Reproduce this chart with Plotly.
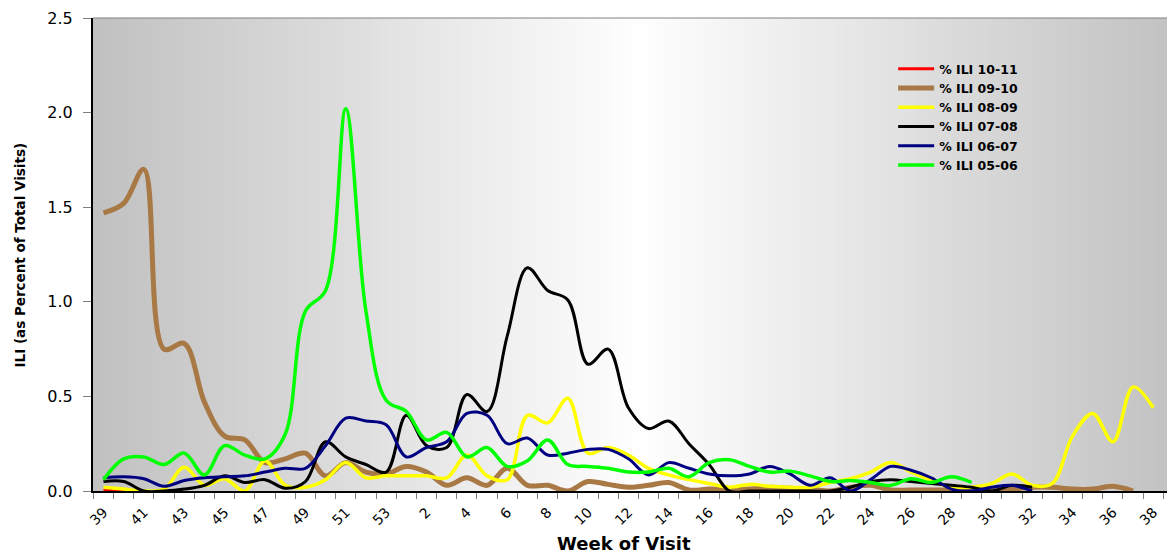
import plotly.graph_objects as go

# week of visit, flu season order
weeks = [str(w) for w in range(39, 54)] + [str(w) for w in range(1, 39)]

ili_10_11 = [0.005, 0.005]

ili_09_10 = [1.47, 1.52, 1.70, 0.75, 0.78, 0.47, 0.29, 0.27, 0.15, 0.17,
             0.20, 0.08, 0.15, 0.10, 0.09, 0.13, 0.10, 0.03, 0.07, 0.03,
             0.12, 0.03, 0.03, 0.0, 0.05, 0.035, 0.02, 0.03, 0.045, 0.005,
             0.01, 0.01, 0.01, 0.02, 0.015, 0.01, 0.0, 0.02, 0.03, 0.005,
             0.005, 0.005, 0.005, 0.01, 0.015, 0.01, 0.02, 0.02, 0.01, 0.01,
             0.025, 0.0]

ili_08_09 = [0.02, 0.01, 0.0, 0.01, 0.125, 0.03, 0.065, 0.0, 0.16, 0.03,
             0.02, 0.06, 0.15, 0.07, 0.08, 0.08, 0.08, 0.07, 0.19, 0.08,
             0.06, 0.40, 0.36, 0.49, 0.20, 0.23, 0.19, 0.12, 0.085, 0.06,
             0.04, 0.02, 0.035, 0.025, 0.02, 0.02, 0.045, 0.065, 0.10, 0.15,
             0.10, 0.055, 0.02, 0.02, 0.04, 0.09, 0.03, 0.04, 0.29, 0.41,
             0.26, 0.55, 0.44]

ili_07_08 = [0.05, 0.05, 0.0, 0.0, 0.01, 0.03, 0.08, 0.045, 0.06, 0.015,
             0.05, 0.26, 0.18, 0.14, 0.10, 0.40, 0.24, 0.23, 0.51, 0.42,
             0.82, 1.18, 1.06, 1.01, 0.67, 0.75, 0.44, 0.33, 0.37, 0.25,
             0.14, 0.0, 0.0, 0.0, 0.0, 0.0, 0.0, 0.02, 0.05, 0.06,
             0.05, 0.04, 0.03, 0.02, 0.0, 0.03, 0.02]

ili_06_07 = [0.07, 0.075, 0.065, 0.025, 0.055, 0.07, 0.075, 0.08, 0.10, 0.12,
             0.12, 0.24, 0.385, 0.37, 0.35, 0.18, 0.23, 0.26, 0.41, 0.40,
             0.25, 0.28, 0.19, 0.20, 0.22, 0.22, 0.17, 0.085, 0.15, 0.12,
             0.09, 0.08, 0.09, 0.13, 0.09, 0.03, 0.07, 0.0, 0.06, 0.13,
             0.11, 0.07, 0.01, 0.0, 0.02, 0.03, 0.0]

ili_05_06 = [0.06, 0.17, 0.18, 0.14, 0.20, 0.085, 0.24, 0.19, 0.17, 0.30,
             0.95, 1.06, 2.02, 0.95, 0.48, 0.42, 0.27, 0.31, 0.18, 0.23,
             0.13, 0.16, 0.27, 0.14, 0.13, 0.12, 0.10, 0.10, 0.12, 0.075,
             0.15, 0.165, 0.13, 0.10, 0.105, 0.08, 0.05, 0.055, 0.045, 0.03,
             0.065, 0.045, 0.075, 0.045]

series = [
    ('% ILI 10-11', ili_10_11, '#FF0000', 3),
    ('% ILI 09-10', ili_09_10, '#A87845', 5),
    ('% ILI 08-09', ili_08_09, '#FFFF00', 3.5),
    ('% ILI 07-08', ili_07_08, '#000000', 3),
    ('% ILI 06-07', ili_06_07, '#000080', 3),
    ('% ILI 05-06', ili_05_06, '#00FF00', 3.5),
]

idx = list(range(len(weeks)))
FONT = 'DejaVu Sans'

fig = go.Figure()
for name, vals, color, w in series:
    fig.add_trace(go.Scatter(x=idx[:len(vals)], y=vals, name=name, mode='lines',
                             line=dict(color=color, width=w, shape='spline', smoothing=1)))

# horizontal gray -> white -> gray gradient behind the plot
shapes = []
n = 120
left, right, center, half = 93, 1167, 639, 546
for k in range(n):
    px = left + (k + 0.5) * (right - left) / n
    g = int(round(255 - 63 * min(1, abs(px - center) / half)))
    shapes.append(dict(type='rect', xref='paper', yref='paper', x0=k / n, x1=(k + 1) / n + 0.002,
                       y0=0, y1=1, fillcolor=f'rgb({g},{g},{g})', line=dict(width=0), layer='below'))
shapes.append(dict(type='line', xref='paper', yref='paper', x0=0, x1=1, y0=1, y1=1,
                   line=dict(color='#808080', width=1)))

# page body has an 8px margin, so the figure is shifted/sized to fit the window
fig.update_layout(
    width=1159, height=550, margin=dict(l=85, r=0, t=10, b=67, autoexpand=False),
    paper_bgcolor='white', plot_bgcolor='rgba(0,0,0,0)', shapes=shapes,
    font=dict(family=FONT, color='black'),
    showlegend=True,
    legend=dict(x=0.745, y=0.9235, xanchor='left', yanchor='top', bgcolor='rgba(0,0,0,0)',
                font=dict(family=FONT, size=12.5, weight='bold'), itemwidth=36, tracegroupgap=0),
    xaxis=dict(range=[-0.52, 52.68], tickmode='array', tickvals=idx[::2], ticktext=weeks[::2],
               tickangle=-45, ticks='', tickfont=dict(size=14), showgrid=False, zeroline=False,
               showline=True, linecolor='black', linewidth=1.5, automargin=False,
               ticklabelstandoff=6, ticklabeloverflow='allow',
               minor=dict(tickmode='array', tickvals=[i - 0.5 for i in range(len(weeks) + 1)],
                          ticks='outside', ticklen=6, tickcolor='#808080', showgrid=False)),
    yaxis=dict(range=[0, 2.5], dtick=0.5, tickformat='.1f', ticks='outside', ticklen=8,
               tickcolor='#808080', tickfont=dict(size=16), showgrid=False, zeroline=False,
               showline=True, linecolor='black', linewidth=2, automargin=False,
               ticklabelstandoff=7, ticklabeloverflow='allow'),
    annotations=[
        dict(text='ILI (as Percent of Total Visits)', xref='paper', yref='paper', x=-0.068, y=0.5,
             xanchor='center', textangle=-90, showarrow=False, font=dict(size=13.5, weight='bold')),
        dict(text='Week of Visit', xref='paper', yref='paper', x=0.494, y=-0.112, yanchor='middle',
             xanchor='center', showarrow=False, font=dict(size=18, weight='bold')),
    ],
)

fig.write_html("out.html")
